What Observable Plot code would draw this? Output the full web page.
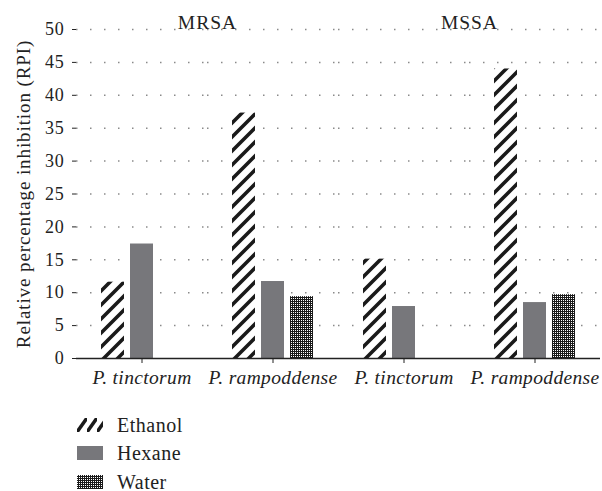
<!DOCTYPE html>
<html><head><meta charset="utf-8">
<script src="https://cdn.jsdelivr.net/npm/d3@7"></script>
<script src="https://cdn.jsdelivr.net/npm/@observablehq/plot@0.6"></script>
<style>
body{margin:0;background:#fff;font-family:"Liberation Serif","Times New Roman","DejaVu Serif",serif;color:#222;}
#chart{height:395px;}
#chart svg, #chart svg text, #chart svg g{font-family:"Liberation Serif","Times New Roman","DejaVu Serif",serif !important;}
#chart svg [aria-label="y-axis tick label"]{font-size:18px !important;letter-spacing:0.8px;}
#chart svg [aria-label="y-axis label"]{font-size:19px !important;letter-spacing:0.9px;}
#chart svg [aria-label="fx-axis tick label"]{font-size:19.5px !important;font-style:italic;letter-spacing:0.35px;}
#chart svg [aria-label="text"]{font-size:19.5px !important;letter-spacing:1px;}
#legend{padding-left:77px;padding-top:20.5px;}
.row{display:flex;align-items:center;height:18px;margin-bottom:10.5px;font-size:20px;line-height:18px;letter-spacing:0.5px;}
.row:last-child{margin-bottom:0;}
.row svg{margin-right:14px;}
</style></head><body>
<div id="chart"></div>
<div id="legend"></div>
<script>
const strains = ["MRSA", "MRSA", "MSSA", "MSSA"];
const species = ["P. tinctorum", "P. rampoddense", "P. tinctorum", "P. rampoddense"];
const extracts = ["Ethanol", "Hexane", "Water"];
const ethanol = [11.6, 37.3, 15.1, 44.0];
const hexane = [17.4, 11.7, 7.9, 8.5];
const water = [0, 9.4, 0, 9.7];
const yTicks = [0, 5, 10, 15, 20, 25, 30, 35, 40, 45, 50];
const yLabel = "Relative percentage inhibition (RPI)";
const fills = ["url(#hatch)", "#77777b", "url(#dots)"];

const keys = strains.map((s, i) => s + "|" + species[i]);
const series = [ethanol, hexane, water];
const rows = [];
keys.forEach((k, i) => extracts.forEach((e, j) => rows.push({key: k, extract: e, value: series[j][i]})));
const strainLabels = [...new Set(strains)].map(s => ({key: keys[strains.indexOf(s)], label: s}));

const serif = "Liberation Serif, Times New Roman, DejaVu Serif, serif";
const chart = Plot.plot({
  width: 602, height: 395,
  marginLeft: 76, marginRight: 2, marginTop: 29, marginBottom: 37,
  style: {fontFamily: serif, fontSize: "17px", color: "#222", background: "#fff"},
  fx: {domain: keys, padding: 0, label: null, axis: null},
  x: {domain: extracts, paddingInner: 0.19, paddingOuter: 0.81, axis: null},
  y: {domain: [0, 50], axis: null},
  color: {domain: extracts, range: fills},
  marks: [
    Plot.gridY(yTicks.filter(t => t > 0), {stroke: "#8a8a8a", strokeOpacity: 1, strokeWidth: 1.5, strokeDasharray: "1.5,12.5"}),
    Plot.barY(rows.filter(d => d.value > 0), {fx: "key", x: "extract", y: "value", fill: "extract"}),
    Plot.ruleY([0], {stroke: "#222", strokeWidth: 1.5}),
    Plot.axisY({ticks: yTicks, tickSize: 4, tickPadding: 8, line: true, label: yLabel, labelAnchor: "center", labelArrow: false, labelOffset: 60}),
    Plot.axisFx({anchor: "bottom", tickSize: 5, tickPadding: 7, label: null, tickFormat: k => k.split("|")[1]}),
    Plot.text(strainLabels, {fx: "key", text: "label", frameAnchor: "top-right", dy: -14, textAnchor: "middle"})
  ]
});

const defs = `<defs>
<pattern id="hatch" patternUnits="userSpaceOnUse" width="14" height="14">
<rect width="14" height="14" fill="#fff"/>
<path d="M-3.5,3.5L3.5,-3.5M0,14L14,0M10.5,17.5L17.5,10.5" stroke="#1a1a1a" stroke-width="3.6"/>
</pattern>
<pattern id="dots" patternUnits="userSpaceOnUse" width="2" height="2">
<rect width="2" height="2" fill="#1a1a1a"/>
<rect width="1" height="1" fill="#fff"/>
</pattern></defs>`;
chart.insertAdjacentHTML("afterbegin", defs);
document.getElementById("chart").appendChild(chart);

const legend = document.getElementById("legend");
extracts.forEach((e, j) => {
  const row = document.createElement("div");
  row.className = "row";
  row.innerHTML = `<svg width="26" height="14"><defs>
<pattern id="lh${j}" patternUnits="userSpaceOnUse" width="10" height="14">
<path d="M0,14L10,0" stroke="#1a1a1a" stroke-width="3.6"/></pattern>
<pattern id="ld${j}" patternUnits="userSpaceOnUse" width="2" height="2">
<rect width="2" height="2" fill="#1a1a1a"/><rect width="1" height="1" fill="#fff"/></pattern></defs>
<rect width="26" height="14" fill="${j === 0 ? `url(#lh${j})` : j === 1 ? fills[1] : `url(#ld${j})`}"/></svg><span>${e}</span>`;
  legend.appendChild(row);
});
</script>
</body></html>
